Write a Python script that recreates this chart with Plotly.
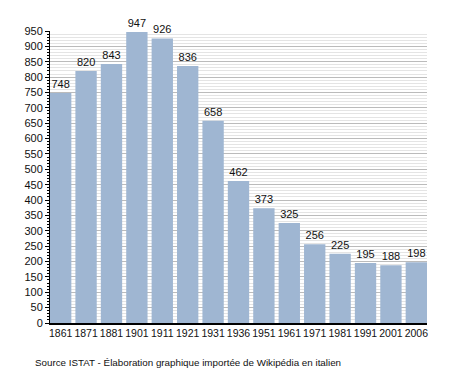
import plotly.graph_objects as go

years = ["1861", "1871", "1881", "1901", "1911", "1921", "1931", "1936",
         "1951", "1961", "1971", "1981", "1991", "2001", "2006"]
population = [748, 820, 843, 947, 926, 836, 658, 462, 373, 325, 256, 225, 195, 188, 198]
y_ticks = list(range(0, 951, 50))

gap = 0.16
fig = go.Figure(go.Bar(
    x=list(range(len(years))), y=population,
    text=[str(v) for v in population], textposition="outside",
    textfont=dict(family="Liberation Sans, Arial, sans-serif", size=11, color="#111"),
    marker=dict(color="#9fb6d2", line=dict(width=0)),
    cliponaxis=False,
))
fig.update_layout(
    width=447, height=365,
    margin=dict(l=42, r=28, t=23, b=50, autoexpand=False),
    paper_bgcolor="white", plot_bgcolor="white",
    bargap=gap, showlegend=False,
    font=dict(family="Liberation Sans, Arial, sans-serif", size=11, color="#111"),
    annotations=[dict(text="Source ISTAT - Élaboration graphique importée de Wikipédia en italien",
                      xref="paper", yref="paper", x=-0.045, y=-0.134, xanchor="left", yanchor="middle",
                      showarrow=False, font=dict(size=9.8, color="#111"))],
)
fig.update_xaxes(
    tickmode="array", tickvals=list(range(len(years))), ticktext=years,
    range=[-0.5 + gap / 2, len(years) - 0.5 - gap / 2],
    showgrid=False, showline=True, linecolor="black", linewidth=1.5,
    ticks="", tickfont=dict(size=10.5), tickangle=0, automargin=False,
)
fig.update_yaxes(
    range=[0, 950], tickvals=y_ticks, showline=True, linecolor="black", linewidth=1,
    ticks="outside", ticklen=4, tickcolor="black",
    showgrid=True, gridcolor="#bbbbbb", gridwidth=1,
    minor=dict(dtick=10, showgrid=True, gridcolor="#e4e4e4", ticks="outside", ticklen=2, tickcolor="black"),
    zeroline=False, tickfont=dict(size=11), automargin=False,
)
fig.write_html("out.html")
